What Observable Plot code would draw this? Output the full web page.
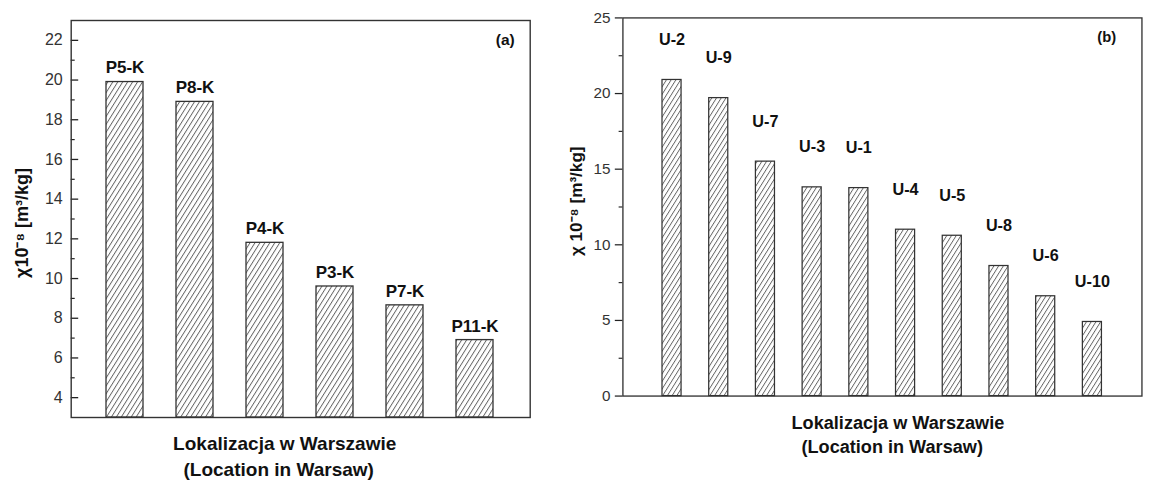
<!DOCTYPE html>
<html><head><meta charset="utf-8">
<script src="https://cdn.jsdelivr.net/npm/d3@7"></script>
<script src="https://cdn.jsdelivr.net/npm/@observablehq/plot@0.6"></script>
<style>
html,body{margin:0;padding:0;background:#fff;overflow:hidden;width:1151px;height:480px}
#wrap{position:relative;width:1151px;height:480px;overflow:hidden}
#a{position:absolute;left:0;top:0}
#b{position:absolute;left:560px;top:0}
</style></head><body><div id="wrap"><div id="a"></div><div id="b"></div></div>
<script>
// Panel (a)
const sitesA = ["P5-K","P8-K","P4-K","P3-K","P7-K","P11-K"];
const valuesA = [19.9, 18.9, 11.8, 9.6, 8.65, 6.9];
const domainA = [3, 23];
const ticksA = [4,6,8,10,12,14,16,18,20,22];
const minorA = [5,7,9,11,13,15,17,19,21];
// Panel (b)
const sitesB = ["U-2","U-9","U-7","U-3","U-1","U-4","U-5","U-8","U-6","U-10"];
const valuesB = [20.9, 19.7, 15.5, 13.8, 13.75, 11.0, 10.6, 8.6, 6.6, 4.9];
const domainB = [0, 25];
const ticksB = [0,5,10,15,20,25];
const minorB = [2.5,7.5,12.5,17.5,22.5];
const yLabelA = "χ10⁻⁸ [m³/kg]";
const yLabelB = "χ 10⁻⁸ [m³/kg]";
const xTitle1 = "Lokalizacja w Warszawie";
const xTitle2 = "(Location in Warsaw)";

const dataA = sitesA.map((s,i)=>({site:s, value:valuesA[i]}));
const dataB = sitesB.map((s,i)=>({site:s, value:valuesB[i]}));
const FONT = "'Liberation Sans', Arial, Helvetica, sans-serif";
const ns = "http://www.w3.org/2000/svg";
function addHatch(svg, id){
  const defs = document.createElementNS(ns, "defs");
  defs.innerHTML = `<pattern id="${id}" patternUnits="userSpaceOnUse" width="4.2" height="4.2" patternTransform="rotate(32)"><rect width="4.2" height="4.2" fill="white"/><line x1="0.5" y1="-1" x2="0.5" y2="5.2" stroke="#555" stroke-width="0.85"/></pattern>`;
  svg.insertBefore(defs, svg.firstChild);
}

// ---- Panel A
{
  const W = 560, H = 480, mL = 70.7, mR = 30.3, mT = 20, mB = 63;
  const fw = W - mL - mR;
  const p = Plot.plot({
    width: W, height: H, marginLeft: mL, marginRight: mR, marginTop: mT, marginBottom: mB,
    style: {fontFamily: FONT, fontSize: "16px", color: "#222", background: "white", overflow: "visible"},
    x: {type: "band", domain: sitesA, paddingInner: 0.465, paddingOuter: 0.479, axis: null},
    y: {domain: domainA, axis: null},
    marks: [
      Plot.barY(dataA, {x: "site", y1: domainA[0], y2: "value", fill: "url(#hatchA)", stroke: "#333", strokeWidth: 1.3}),
      Plot.tickY(ticksA, {y: d=>d, insetRight: fw - 7.5, stroke: "#222", strokeWidth: 1.3}),
      Plot.tickY(minorA, {y: d=>d, insetRight: fw - 4, stroke: "#222", strokeWidth: 1.2}),
      Plot.axisY(ticksA, {tickSize: 0, tickPadding: 8.5, fontSize: 16, fill: "#333", label: null}),
      Plot.frame({stroke: "#333", strokeWidth: 1.4}),
      Plot.text(dataA, {x: "site", y: "value", text: "site", dy: -14, lineAnchor: "middle", fontWeight: "bold", fontSize: 17, fill: "#111"}),
      Plot.text(["(a)"], {frameAnchor: "top-right", dx: -25, dy: 20, lineAnchor: "middle", textAnchor: "middle", fontWeight: "bold", fontSize: 15.5, fill: "#111"}),
      Plot.text([yLabelA], {frameAnchor: "left", dx: -49, dy: 4, rotate: -90, lineAnchor: "middle", textAnchor: "middle", fontWeight: "bold", fontSize: 18, fill: "#111"}),
      Plot.text([xTitle1], {frameAnchor: "bottom", dx: -16, dy: 26, lineAnchor: "middle", fontWeight: "bold", fontSize: 19, fill: "#111"}),
      Plot.text([xTitle2], {frameAnchor: "bottom", dx: -22, dy: 52, lineAnchor: "middle", fontWeight: "bold", fontSize: 19, fill: "#111"})
    ]
  });
  addHatch(p, "hatchA");
  document.getElementById("a").appendChild(p);
}

// ---- Panel B
{
  const W = 620, H = 480, mL = 65.5, mR = 10, mT = 18.3, mB = 65;
  const p = Plot.plot({
    width: W, height: H, marginLeft: mL, marginRight: mR, marginTop: mT, marginBottom: mB,
    style: {fontFamily: FONT, fontSize: "16px", color: "#222", background: "white", overflow: "visible"},
    x: {type: "band", domain: sitesB, paddingInner: 0.595, paddingOuter: 0.80, axis: null},
    y: {domain: domainB, axis: null},
    marks: [
      Plot.barY(dataB, {x: "site", y1: domainB[0], y2: "value", fill: "url(#hatchB)", stroke: "#333", strokeWidth: 1.3}),
      Plot.axisY(ticksB, {tickSize: 8, tickPadding: 5, fontSize: 16, fill: "#333", stroke: "#222", strokeWidth: 1.3, label: null}),
      Plot.axisY(minorB, {tickSize: 4, text: null, stroke: "#222", strokeWidth: 1.2, label: null}),
      Plot.frame({stroke: "#333", strokeWidth: 1.4}),
      Plot.text(dataB, {x: "site", y: "value", text: "site", dy: -42, lineAnchor: "middle", fontWeight: "bold", fontSize: 17, fill: "#111"}),
      Plot.text(["(b)"], {frameAnchor: "top-left", dx: 1133 - 560 - mL, dy: 20, lineAnchor: "middle", textAnchor: "middle", fontWeight: "bold", fontSize: 15.5, fill: "#111"}),
      Plot.text([yLabelB], {frameAnchor: "left", dx: -48.5, dy: -6, rotate: -90, lineAnchor: "middle", textAnchor: "middle", fontWeight: "bold", fontSize: 18, fill: "#111"}),
      Plot.text([xTitle1], {frameAnchor: "bottom-left", dx: 914 - 560 - mL, dy: 28, lineAnchor: "middle", textAnchor: "middle", fontWeight: "bold", fontSize: 19, fill: "#111"}),
      Plot.text([xTitle2], {frameAnchor: "bottom-left", dx: 908 - 560 - mL, dy: 54, lineAnchor: "middle", textAnchor: "middle", fontWeight: "bold", fontSize: 19, fill: "#111"})
    ]
  });
  addHatch(p, "hatchB");
  document.getElementById("b").appendChild(p);
}
</script></body></html>
